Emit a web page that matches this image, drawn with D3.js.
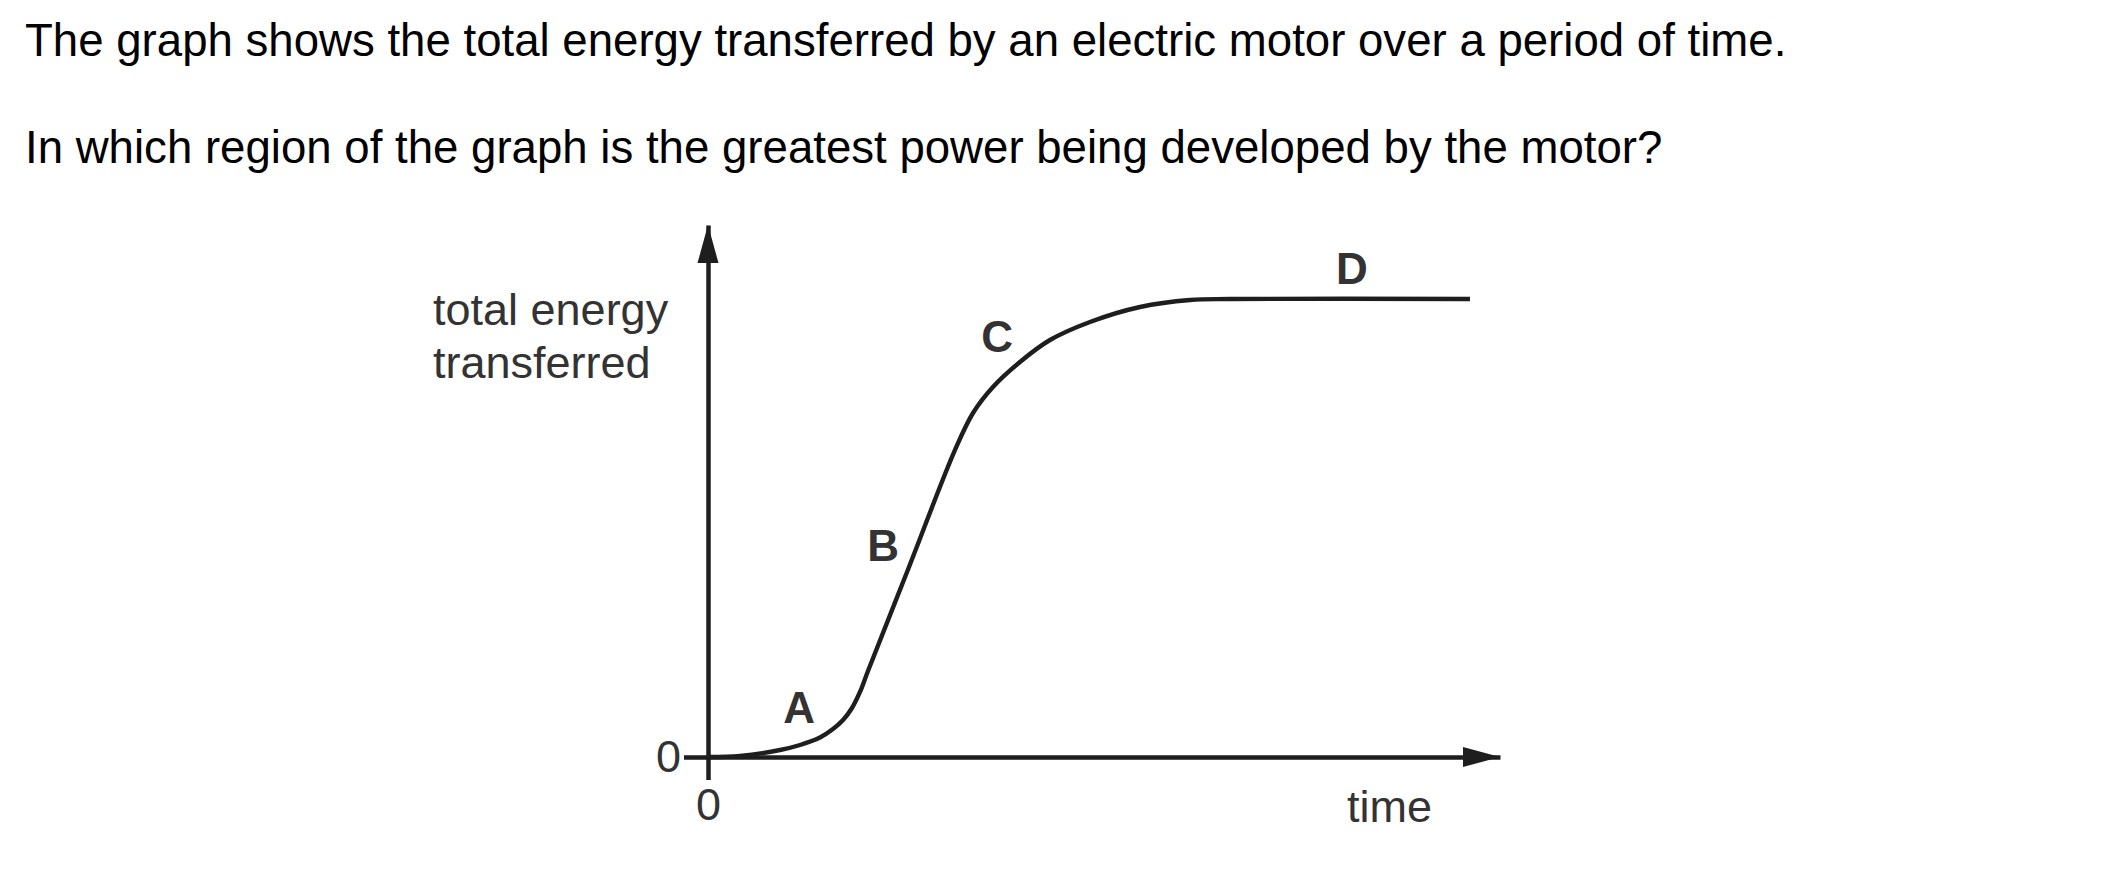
<!DOCTYPE html>
<html>
<head>
<meta charset="utf-8">
<script src="https://cdn.jsdelivr.net/npm/d3@7"></script>
<style>
  html, body { margin: 0; padding: 0; background: #fff; }
  svg { display: block; }
</style>
</head>
<body>
<script>
// ---- data ----
const questionLines = [
  "The graph shows the total energy transferred by an electric motor over a period of time.",
  "In which region of the graph is the greatest power being developed by the motor?"
];
const yLabelLines = ["total energy", "transferred"];
const xLabel = "time";
const tickLabels = ["0"];
const timeVals   = [0, 4.04, 9.09, 11.62, 14.14, 15.78, 17.05, 18.18, 19.19, 20.20, 25.13, 31.19, 33.46, 35.98, 39.39, 43.18, 48.23, 54.55, 60.86, 65.91, 96.21];
const energyVals = [0, 0.19, 1.32, 2.26, 3.67, 5.26, 6.95, 9.21, 12.22, 16.17, 34.77, 57.71, 64.66, 69.55, 74.25, 78.38, 81.77, 84.59, 85.90, 86.09, 86.09];
const regionNames  = ["A", "B", "C", "D"];
const regionTime   = [11.5, 22.1, 36.5, 81.3];
const regionEnergy = [6.4, 36.8, 76.1, 88.9];

// ---- layout ----
const W = 2101, H = 883;
const font = "'Liberation Sans', Arial, sans-serif";
const ink = "#1e1e1e";

const svg = d3.select("body").append("svg")
  .attr("width", W).attr("height", H)
  .style("background", "#fff");

// question text
svg.selectAll("text.q").data(questionLines).join("text")
  .attr("class", "q")
  .attr("x", 25)
  .attr("y", (d, i) => 56 + i * 107)
  .attr("font-family", font)
  .attr("font-size", 45.6)
  .attr("fill", "#000")
  .text(d => d);

const x = d3.scaleLinear().domain([0, 100]).range([708, 1500]);
const y = d3.scaleLinear().domain([0, 100]).range([757, 225]);

// x axis
const xAxis = d3.axisBottom(x).tickValues([0]).tickFormat((d, i) => tickLabels[i])
  .tickSizeInner(23).tickSizeOuter(0).tickPadding(8);
const gx = svg.append("g").attr("transform", `translate(0,${y(0)})`).call(xAxis);
// y axis
const yAxis = d3.axisLeft(y).tickValues([0]).tickFormat((d, i) => tickLabels[i])
  .tickSizeInner(24).tickSizeOuter(0).tickPadding(3);
const gy = svg.append("g").attr("transform", `translate(${x(0)},0)`).call(yAxis);

[gx, gy].forEach(g => {
  g.select(".domain").attr("stroke", ink).attr("stroke-width", 4.5);
  g.selectAll(".tick line").attr("stroke", ink).attr("stroke-width", 4.5);
  g.selectAll(".tick text").attr("font-family", font).attr("font-size", 45)
    .attr("fill", "#333");
});
gy.selectAll(".tick text").attr("dy", "0.33em");

// arrowheads
const xTip = x(100), yTip = y(100);
svg.append("path")
  .attr("d", `M${xTip},${y(0)} L${xTip - 37},${y(0) - 10} L${xTip - 37},${y(0) + 10} Z`)
  .attr("fill", ink);
svg.append("path")
  .attr("d", `M${x(0)},${yTip} L${x(0) - 10.5},${yTip + 38} L${x(0) + 10.5},${yTip + 38} Z`)
  .attr("fill", ink);

// curve
const pts = timeVals.map((t, i) => [t, energyVals[i]]);
const line = d3.line().x(d => x(d[0])).y(d => y(d[1])).curve(d3.curveCatmullRom.alpha(0.5));
svg.append("path")
  .datum(pts)
  .attr("d", line)
  .attr("fill", "none")
  .attr("stroke", ink)
  .attr("stroke-width", 4.4)
  .attr("stroke-linecap", "butt");

// axis titles
svg.selectAll("text.yl").data(yLabelLines).join("text")
  .attr("class", "yl")
  .attr("x", 433)
  .attr("y", (d, i) => 325 + i * 53)
  .attr("font-family", font)
  .attr("font-size", 45)
  .attr("fill", "#333")
  .text(d => d);

svg.append("text")
  .attr("x", 1347)
  .attr("y", 822)
  .attr("font-family", font)
  .attr("font-size", 45)
  .attr("fill", "#333")
  .text(xLabel);

// region labels
svg.selectAll("text.region").data(regionNames).join("text")
  .attr("class", "region")
  .attr("x", (d, i) => x(regionTime[i]))
  .attr("y", (d, i) => y(regionEnergy[i]))
  .attr("text-anchor", "middle")
  .attr("font-family", font)
  .attr("font-weight", "bold")
  .attr("font-size", 44)
  .attr("fill", "#333")
  .text(d => d);
</script>
</body>
</html>
